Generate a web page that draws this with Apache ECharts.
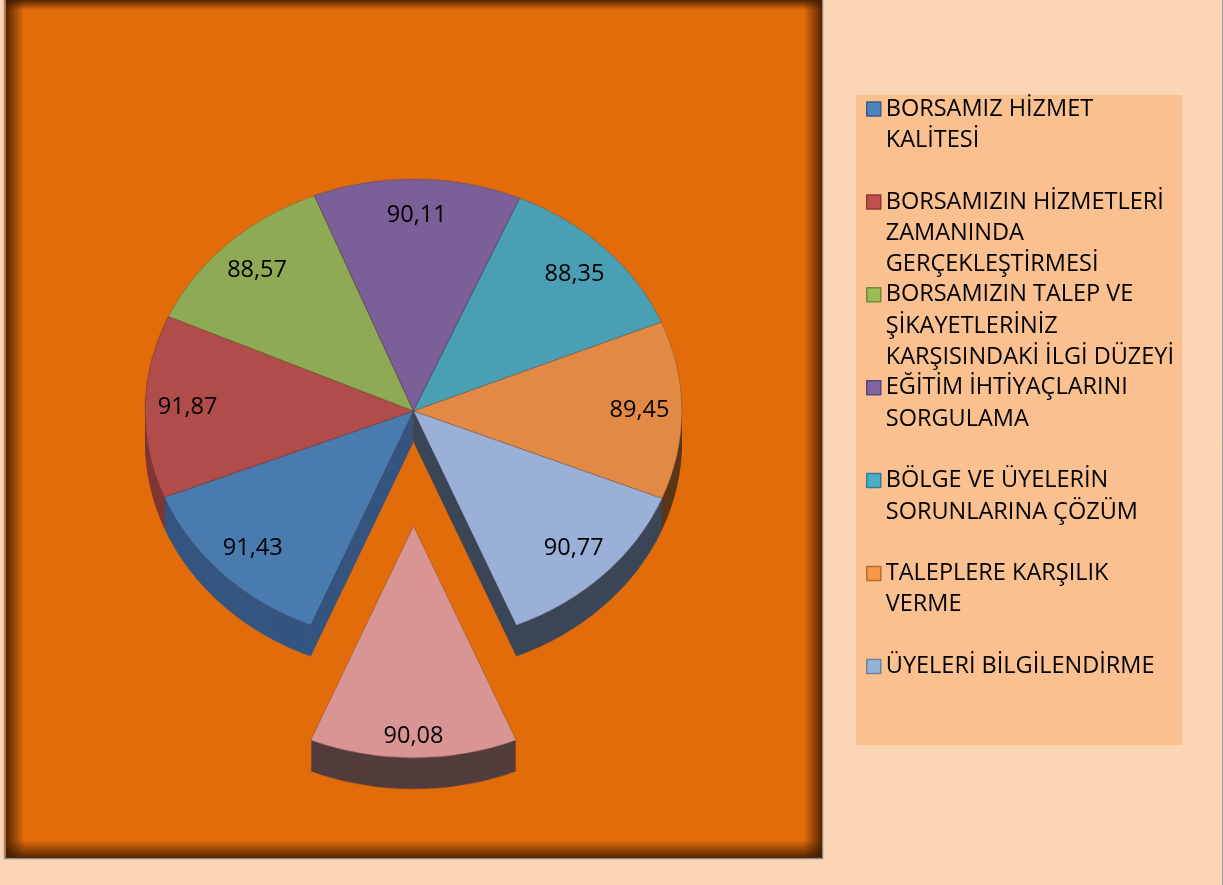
<!DOCTYPE html>
<html>
<head>
<meta charset="utf-8">
<script src="https://cdn.jsdelivr.net/npm/echarts@6/dist/echarts.min.js"></script>
<style>
  html, body { margin: 0; padding: 0; background: #FCD5B4; }
  .layer { position: absolute; left: 0; top: 0; width: 1223px; height: 885px; }
  /* the pie is tilted: squash its layer vertically around the pie centre */
  #pie { transform-origin: 0 411px; transform: scaleY(0.864); }
</style>
</head>
<body>
<div id="back" class="layer"></div>
<div id="pie" class="layer"></div>
<div id="front" class="layer"></div>
<script>
const categories = [
  'BORSAMIZ HİZMET KALİTESİ',
  'BORSAMIZIN HİZMETLERİ ZAMANINDA GERÇEKLEŞTİRMESİ',
  'BORSAMIZIN TALEP VE ŞİKAYETLERİNİZ KARŞISINDAKİ İLGİ DÜZEYİ',
  'EĞİTİM İHTİYAÇLARINI SORGULAMA',
  'BÖLGE VE ÜYELERİN SORUNLARINA ÇÖZÜM',
  'TALEPLERE KARŞILIK VERME',
  'ÜYELERİ BİLGİLENDİRME',
  '' // 8th slice, its legend entry is cut off in the original
];
const values = [91.43, 91.87, 88.57, 90.11, 88.35, 89.45, 90.77, 90.08];
const topColors = ['#4A7BAE', '#B04C4A', '#8FAA55', '#7A5F98', '#4A9FB5', '#E28A45', '#9AB0D7', '#D89594'];
const sideColors = ['#34557F', '#803634', '#5D7336', '#4F3D66', '#2F6B7A', '#5B3718', '#3B4657', '#533C3C'];
const legendColors = ['#4F81BD', '#C0504D', '#9BBB59', '#8064A2', '#4BACC6', '#F79646', '#95B3D7'];
const legendBorders = ['#385D8A', '#8C3836', '#71893F', '#5C4776', '#357D91', '#B66D31', '#6C82A0'];
const legendCount = 7;
const explodedIndex = 7;

// layout
const CX = 413.5, CY = 411, R = 268.5, TILT = 0.864, DEPTH = 36, EXPLODE = 133, LAYERS = 12;
const FONT = '"Open Sans", sans-serif';
const FONT_SIZE = 23.5, LINE_H = 31.3;

// ---- background, plot area, legend box ----
const back = echarts.init(document.getElementById('back'));
const shade = (x, y, x2, y2) => ({
  type: 'linear', x: x, y: y, x2: x2, y2: y2,
  colorStops: [{ offset: 0, color: 'rgba(60,25,0,0.85)' }, { offset: 1, color: 'rgba(60,25,0,0)' }]
});
back.setOption({
  backgroundColor: '#FCD5B4',
  animation: false,
  graphic: [
    { type: 'rect', shape: { x: 4.5, y: -2, width: 818, height: 860.5 }, style: { fill: '#E36C0A', stroke: '#8C8C8C', lineWidth: 1.5 } },
    { type: 'rect', shape: { x: 6, y: 0, width: 18, height: 857 }, style: { fill: shade(0, 0, 1, 0) } },
    { type: 'rect', shape: { x: 6, y: 0, width: 816, height: 10 }, style: { fill: shade(0, 0, 0, 1) } },
    { type: 'rect', shape: { x: 804, y: 0, width: 18, height: 857 }, style: { fill: shade(1, 0, 0, 0) } },
    { type: 'rect', shape: { x: 6, y: 840, width: 816, height: 18 }, style: { fill: shade(0, 1, 0, 0) } },
    { type: 'rect', shape: { x: 856, y: 95, width: 326, height: 650 }, style: { fill: '#FAC090' } },
    { type: 'line', shape: { x1: 1222.5, y1: 0, x2: 1222.5, y2: 885 }, style: { stroke: '#A0A0A0', lineWidth: 1 } }
  ]
});

// ---- pie: stacked dark copies make the sides, top faces drawn last ----
const pie = echarts.init(document.getElementById('pie'));
const pieData = colors => values.map((v, i) => ({
  value: v, name: categories[i], selected: i === explodedIndex, itemStyle: { color: colors[i] }
}));
const pieBase = {
  type: 'pie', startAngle: 247.5, clockwise: true, radius: R,
  selectedMode: 'single', selectedOffset: EXPLODE, silent: true,
  label: { show: false }, labelLine: { show: false }, emphasis: { disabled: true }
};
const pieSeries = [];
for (let k = LAYERS; k >= 1; k--) {
  pieSeries.push(Object.assign({}, pieBase, {
    center: [CX, CY + DEPTH * k / LAYERS], data: pieData(sideColors), itemStyle: { borderWidth: 0 }
  }));
}
pieSeries.push(Object.assign({}, pieBase, {
  center: [CX, CY], data: pieData(topColors), itemStyle: { borderColor: 'rgba(70,30,20,0.35)', borderWidth: 0.8 }
}));
pie.setOption({ animation: false, series: pieSeries });

// ---- labels and legend (unsquashed) ----
const measure = document.createElement('canvas').getContext('2d');
measure.font = FONT_SIZE + 'px ' + FONT;
function wrap(text, maxWidth) {
  const lines = [];
  let cur = '';
  text.split(' ').forEach(w => {
    const t = cur ? cur + ' ' + w : w;
    if (cur && measure.measureText(t).width > maxWidth) { lines.push(cur); cur = w; }
    else cur = t;
  });
  lines.push(cur);
  return lines;
}

const LABEL_EXPLODE = 150;
const front = echarts.init(document.getElementById('front'));
front.setOption({
  animation: false,
  legend: {
    orient: 'vertical', left: 866, top: 30.75, padding: 0,
    itemWidth: 14, itemHeight: 14, itemGap: -63.6, icon: 'rect',
    data: categories.slice(0, legendCount).map((n, i) => ({
      name: n, itemStyle: { color: legendColors[i], borderColor: legendBorders[i], borderWidth: 1.5 }
    })),
    // 2 blank lines above, padded to 5 lines: first text line sits on the marker, equal item slots
    formatter: name => {
      const lines = wrap(name, 300);
      while (lines.length < 3) lines.push('');
      return '\n\n' + lines.join('\n');
    },
    textStyle: { fontFamily: FONT, fontSize: FONT_SIZE, lineHeight: LINE_H, color: '#000' }
  },
  series: [{
    type: 'pie', startAngle: 247.5, clockwise: true, radius: [200, 246], center: [CX, CY],
    silent: true,
    itemStyle: { color: 'rgba(0,0,0,0)' },
    data: values.map((v, i) => ({ value: v, name: categories[i] })),
    label: {
      show: true, position: 'inside',
      formatter: p => p.value.toFixed(2).replace('.', ','),
      fontFamily: FONT, fontSize: FONT_SIZE, color: '#000', textBorderWidth: 0
    },
    labelLine: { show: false },
    // push the exploded slice's label out, then squash onto the tilted pie
    labelLayout: p => {
      const r = p.labelRect;
      let x = r.x + r.width / 2, y = r.y + r.height / 2;
      if (p.dataIndex === explodedIndex) {
        const d = Math.hypot(x - CX, y - CY);
        x += (x - CX) / d * LABEL_EXPLODE;
        y += (y - CY) / d * LABEL_EXPLODE;
      }
      return { x: x, y: CY + TILT * (y - CY) };
    },
    emphasis: { disabled: true }
  }]
});
</script>
</body>
</html>
